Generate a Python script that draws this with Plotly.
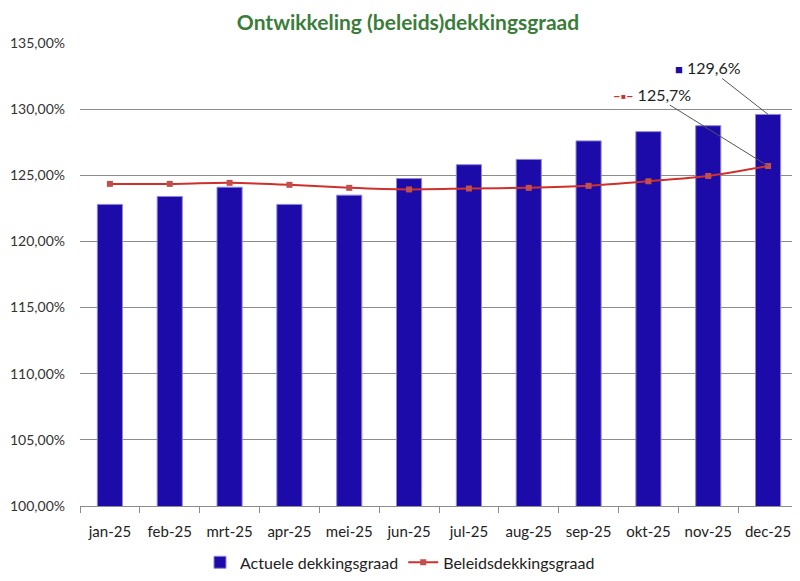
import plotly.graph_objects as go

months = ["jan-25", "feb-25", "mrt-25", "apr-25", "mei-25", "jun-25",
          "jul-25", "aug-25", "sep-25", "okt-25", "nov-25", "dec-25"]
actuele = [122.8, 123.4, 124.1, 122.8, 123.5, 124.75,
           125.8, 126.2, 127.6, 128.3, 128.75, 129.6]
beleids = [124.35, 124.35, 124.43, 124.28, 124.05, 123.93,
           124.0, 124.05, 124.2, 124.55, 124.95, 125.7]

yticks = [100, 105, 110, 115, 120, 125, 130, 135]
yticktext = ["%d,00%%" % v for v in yticks]

BLUE = "#1C0BA8"
RED = "#D0302C"
MARK = "#C0504D"
FONT = "Lato, 'Open Sans', sans-serif"

fig = go.Figure()
fig.add_trace(go.Bar(
    x=months, y=actuele, name="Actuele dekkingsgraad",
    marker=dict(color=BLUE, line=dict(color="#8F86D8", width=1)),
    width=0.42,
))
fig.add_trace(go.Scatter(
    x=months, y=beleids, name="Beleidsdekkingsgraad", mode="lines+markers",
    line=dict(color=RED, width=2, shape="spline", smoothing=0.6),
    marker=dict(symbol="square", size=6, color=MARK),
))

fig.add_annotation(
    x=months[-1], y=actuele[-1], xref="x", yref="y",
    text="<span style='color:%s;font-size:13px'>■</span> 129,6%%" % BLUE,
    showarrow=True, arrowhead=0, arrowwidth=1, arrowcolor="#555555",
    ax=-60, ay=-47, font=dict(family=FONT, size=16, color="#222222"),
)
fig.add_annotation(
    x=months[-1], y=beleids[-1], xref="x", yref="y",
    text="<span style='color:%s;font-size:13px'><b>–▪–</b></span> 125,7%%" % RED,
    showarrow=True, arrowhead=0, arrowwidth=1, arrowcolor="#555555",
    ax=-116, ay=-72, font=dict(family=FONT, size=16, color="#222222"),
)

fig.update_layout(
    width=800, height=581,
    margin=dict(l=72, r=10, t=35, b=83, autoexpand=False),
    paper_bgcolor="white", plot_bgcolor="white",
    title=dict(text="<b>Ontwikkeling (beleids)dekkingsgraad</b>",
               x=0.5, xanchor="center", y=0.975, yanchor="middle",
               font=dict(family=FONT, size=21, color="#3A7D3A")),
    font=dict(family=FONT, size=14, color="#333333"),
    showlegend=True,
    legend=dict(orientation="h", xref="container", x=0.49, xanchor="center",
                y=-0.085, yanchor="top",
                font=dict(family=FONT, size=16, color="#222222"),
                itemwidth=30),
    bargap=0.58,
)
fig.update_yaxes(
    range=[100, 135], tickvals=yticks, ticktext=yticktext, automargin=False,
    showgrid=True, gridcolor="#8C8C8C", gridwidth=1,
    zeroline=False, showline=False, ticks="", ticklabelstandoff=14,
    tickfont=dict(family=FONT, size=14, color="#333333"),
)
fig.update_xaxes(
    range=[-0.5, len(months) - 0.5],
    showline=True, linecolor="#8C8C8C", ticks="outside", tickson="boundaries",
    ticklen=6, tickcolor="#8C8C8C", showgrid=False, ticklabelstandoff=12,
    tickangle=0, automargin=False,
    tickfont=dict(family=FONT, size=15, color="#222222"),
)

fig.write_html("out.html")
